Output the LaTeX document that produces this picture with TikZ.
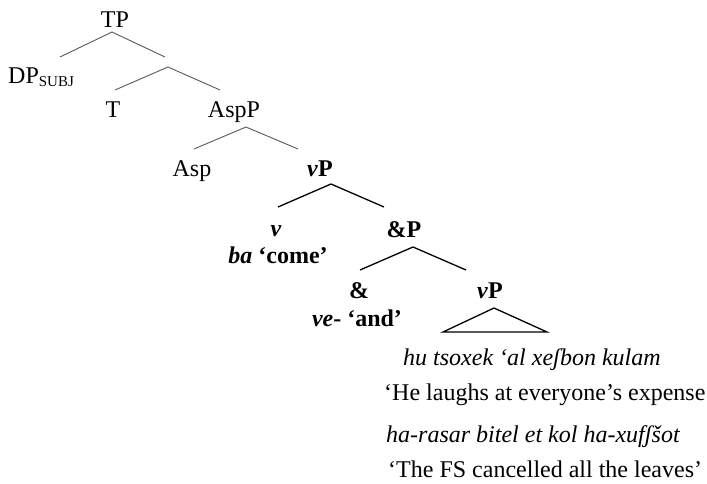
\documentclass[tikz,border=0pt]{standalone}
\usepackage{fontspec}
\setmainfont{Liberation Serif}
\begin{document}
\begin{tikzpicture}[x=1pt,y=-1pt,
  lbl/.style={inner sep=0pt,anchor=base,font=\fontsize{24}{28}\selectfont},
  lblw/.style={inner sep=0pt,anchor=base west,font=\fontsize{24}{28}\selectfont},
  upper/.style={draw=black!65,line width=0.9pt},
  lower/.style={draw=black,line width=1.3pt}]
\useasboundingbox (0,0) rectangle (707,484);
% nodes
\node[lbl] (TP) at (115,28) {TP};
\node[lblw] (DP) at (8,84) {DP\raisebox{-3pt}{\fontsize{15}{18}\selectfont SUBJ}};
\node[lbl] (T) at (113,118) {T};
\node[lbl] (AspP) at (234,118) {AspP};
\node[lbl] (Asp) at (192,177) {Asp};
\node[lbl] (vP1) at (320,177) {\textbf{\textit{v}P}};
\node[lbl] (v) at (276,236) {\textbf{\textit{v}}};
\node[lbl] (ba) at (278,263) {\textbf{\textit{ba} ‘come’}};
\node[lbl] (andP) at (404,237) {\textbf{\&P}};
\node[lbl] (and) at (359,298) {\textbf{\&}};
\node[lbl] (ve) at (357,326) {\textbf{\textit{ve}- ‘and’}};
\node[lbl] (vP2) at (490,298) {\textbf{\textit{v}P}};
\node[lblw] (g1) at (403,365) {\textit{hu tsoxek ‘al xeʃbon kulam}};
\node[lblw] (t1) at (384,400) {‘He laughs at everyone’s expense};
\node[lblw] (g2) at (386,442) {\textit{ha-rasar bitel et kol ha-xufʃšot}};
\node[lblw] (t2) at (388,477) {‘The FS cancelled all the leaves’};
% branch points
\coordinate (a1) at (112,32);
\coordinate (a1l) at (60,57);
\coordinate (a1r) at (165,57);
\coordinate (a2) at (168,67);
\coordinate (a2l) at (115,90);
\coordinate (a2r) at (220,90);
\coordinate (a3) at (246,127);
\coordinate (a3l) at (194,149);
\coordinate (a3r) at (298,149);
\coordinate (a4) at (331,184);
\coordinate (a4l) at (278,207);
\coordinate (a4r) at (384,207);
\coordinate (a5) at (413,247);
\coordinate (a5l) at (360,270);
\coordinate (a5r) at (466,270);
\coordinate (tA) at (494,308);
\coordinate (tL) at (443,332);
\coordinate (tR) at (547,332);
% edges
\draw[upper] (a1l) -- (a1) -- (a1r);
\draw[upper] (a2l) -- (a2) -- (a2r);
\draw[upper] (a3l) -- (a3) -- (a3r);
\draw[lower] (a4l) -- (a4) -- (a4r);
\draw[lower] (a5l) -- (a5) -- (a5r);
\draw[lower,line join=miter] (tA) -- (tL) -- (tR) -- cycle;
\end{tikzpicture}
\end{document}
